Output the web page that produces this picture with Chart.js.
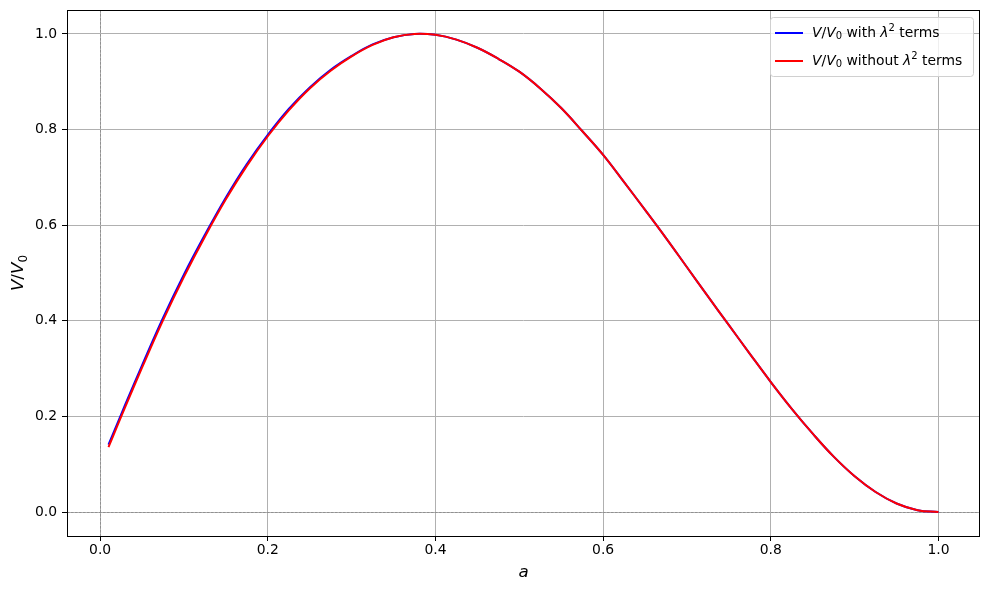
<!DOCTYPE html>
<html>
<head>
<meta charset="utf-8">
<script src="https://cdn.jsdelivr.net/npm/chart.js@4.4.1/dist/chart.umd.min.js"></script>
<style>
  html, body { margin: 0; padding: 0; background: #ffffff; }
  #wrap { position: relative; width: 989px; height: 590px; }
</style>
</head>
<body>
<div id="wrap"><canvas id="c" width="989" height="590"></canvas></div>
<script>
// ---- data ----
const aValues = [0.01, 0.02, 0.03, 0.05, 0.075, 0.1, 0.125, 0.15, 0.175, 0.2,
  0.225, 0.25, 0.275, 0.3, 0.325, 0.35, 0.375, 0.4, 0.425, 0.45, 0.475, 0.5,
  0.525, 0.55, 0.575, 0.6, 0.625, 0.65, 0.675, 0.7, 0.725, 0.75, 0.775, 0.8,
  0.825, 0.85, 0.875, 0.9, 0.925, 0.95, 0.975, 1.0];
const withoutLambda = [0.136, 0.178, 0.220, 0.302, 0.401, 0.492, 0.576, 0.654, 0.724, 0.786,
  0.840, 0.886, 0.923, 0.953, 0.977, 0.993, 1.000, 0.998, 0.988, 0.971, 0.948, 0.921,
  0.886, 0.845, 0.797, 0.747, 0.690, 0.632, 0.573, 0.512, 0.451, 0.391, 0.331, 0.272,
  0.216, 0.164, 0.116, 0.075, 0.042, 0.018, 0.004, 0.000];
const withLambda = [0.141, 0.183, 0.225, 0.307, 0.406, 0.497, 0.580, 0.658, 0.728, 0.789,
  0.843, 0.888, 0.925, 0.954, 0.978, 0.993, 1.000, 0.998, 0.988, 0.971, 0.948, 0.921,
  0.886, 0.845, 0.797, 0.747, 0.690, 0.632, 0.573, 0.512, 0.451, 0.391, 0.331, 0.272,
  0.216, 0.164, 0.116, 0.075, 0.042, 0.018, 0.004, 0.000];
const xTicks = [0.0, 0.2, 0.4, 0.6, 0.8, 1.0];
const yTicks = [0.0, 0.2, 0.4, 0.6, 0.8, 1.0];
const seriesLabels = ['with', 'without'];
const seriesColors = ['#0000ff', '#ff0000'];

const FONT = 'DejaVu Sans';

function pts(ys) { return aValues.map((a, i) => ({ x: a, y: ys[i] })); }

// draw text made of styled pieces; returns width
function drawRich(ctx, x, y, pieces, size, measureOnly) {
  let cx = x;
  for (const p of pieces) {
    const s = (p.sub || p.sup) ? size * 0.72 : size;
    ctx.font = (p.italic ? 'italic ' : '') + s + 'px "' + FONT + '"';
    let dy = 0;
    if (p.sub) dy = size * 0.22;
    if (p.sup) dy = -size * 0.36;
    if (!measureOnly) ctx.fillText(p.t, cx, y + dy);
    cx += ctx.measureText(p.t).width;
  }
  return cx - x;
}
function vv0() {
  return [{ t: 'V', italic: true }, { t: '/' }, { t: 'V', italic: true }, { t: '0', sub: true }];
}

const decorPlugin = {
  id: 'decor',
  beforeDatasetsDraw(chart) {
    const { ctx, chartArea, scales } = chart;
    ctx.save();
    ctx.strokeStyle = '#7a7a7a';
    ctx.lineWidth = 0.6;
    ctx.setLineDash([2.5, 1.5]);
    const x0 = Math.round(scales.x.getPixelForValue(0)) + 0.5;
    const y0 = Math.round(scales.y.getPixelForValue(0)) + 0.5;
    ctx.beginPath();
    ctx.moveTo(x0, chartArea.top); ctx.lineTo(x0, chartArea.bottom);
    ctx.moveTo(chartArea.left, y0); ctx.lineTo(chartArea.right, y0);
    ctx.stroke();
    ctx.restore();
  },
  afterDraw(chart) {
    const { ctx, chartArea } = chart;
    ctx.save();
    // frame
    ctx.strokeStyle = '#000';
    ctx.lineWidth = 1;
    ctx.strokeRect(Math.round(chartArea.left) + 0.5, Math.round(chartArea.top) + 0.5,
      Math.round(chartArea.right - chartArea.left) - 1, Math.round(chartArea.bottom - chartArea.top));

    // legend
    const lx = 770.5, ly = 17.5, lw = 203, lh = 59, r = 3;
    ctx.fillStyle = 'rgba(255,255,255,0.8)';
    ctx.strokeStyle = '#d0d0d0';
    ctx.lineWidth = 1;
    ctx.beginPath();
    ctx.moveTo(lx + r, ly);
    ctx.lineTo(lx + lw - r, ly); ctx.quadraticCurveTo(lx + lw, ly, lx + lw, ly + r);
    ctx.lineTo(lx + lw, ly + lh - r); ctx.quadraticCurveTo(lx + lw, ly + lh, lx + lw - r, ly + lh);
    ctx.lineTo(lx + r, ly + lh); ctx.quadraticCurveTo(lx, ly + lh, lx, ly + lh - r);
    ctx.lineTo(lx, ly + r); ctx.quadraticCurveTo(lx, ly, lx + r, ly);
    ctx.closePath();
    ctx.fill(); ctx.stroke();

    const rowsY = [33, 61];
    ctx.textBaseline = 'middle';
    ctx.textAlign = 'left';
    for (let i = 0; i < 2; i++) {
      ctx.strokeStyle = seriesColors[i];
      ctx.lineWidth = 2;
      ctx.setLineDash([]);
      ctx.beginPath();
      ctx.moveTo(775, rowsY[i]); ctx.lineTo(803, rowsY[i]);
      ctx.stroke();
      ctx.fillStyle = '#000';
      const pieces = vv0().concat([{ t: ' ' + seriesLabels[i] + ' ' }, { t: 'λ', italic: true }, { t: '2', sup: true }, { t: ' terms' }]);
      drawRich(ctx, 812, rowsY[i], pieces, 13.9);
    }

    // x axis label
    ctx.fillStyle = '#000';
    ctx.textBaseline = 'alphabetic';
    ctx.textAlign = 'left';
    ctx.font = 'italic 16.7px "' + FONT + '"';
    const xc = (chartArea.left + chartArea.right) / 2;
    const wa = ctx.measureText('a').width;
    ctx.fillText('a', xc - wa / 2, 577);

    // y axis label (rotated)
    const yc = (chartArea.top + chartArea.bottom) / 2;
    ctx.translate(23, yc);
    ctx.rotate(-Math.PI / 2);
    const w = drawRich(ctx, 0, 0, vv0(), 16.7, true);
    drawRich(ctx, -w / 2, 0, vv0(), 16.7);
    ctx.restore();
  }
};

const tickFont = { family: FONT, size: 13.9 };

function zeroPad(s) { s.paddingTop = 0; s.paddingBottom = 0; s.paddingLeft = 0; s.paddingRight = 0; }

new Chart(document.getElementById('c'), {
  type: 'line',
  data: {
    datasets: [
      { label: 'V/V0 with λ2 terms', data: pts(withLambda), borderColor: seriesColors[0],
        borderWidth: 2, pointRadius: 0, fill: false, tension: 0.4, order: 1 },
      { label: 'V/V0 without λ2 terms', data: pts(withoutLambda), borderColor: seriesColors[1],
        borderWidth: 2, pointRadius: 0, fill: false, tension: 0.4, order: 0 }
    ]
  },
  options: {
    responsive: false,
    animation: false,
    devicePixelRatio: 1,
    layout: { padding: { top: 10, right: 9, left: 0, bottom: 0 } },
    plugins: { legend: { display: false }, tooltip: { enabled: false } },
    scales: {
      x: {
        type: 'linear', min: -0.0395, max: 1.0495,
        afterBuildTicks: s => { s.ticks = xTicks.map(v => ({ value: v })); },
        afterFit: s => { s.height = 54; zeroPad(s); },
        ticks: { callback: v => Number(v).toFixed(1), font: tickFont, color: '#000',
          padding: 1, maxRotation: 0, autoSkip: false },
        grid: { color: '#b0b0b0', lineWidth: 1, tickColor: '#000', tickLength: 5 },
        border: { display: false }
      },
      y: {
        type: 'linear', min: -0.05, max: 1.05,
        afterBuildTicks: s => { s.ticks = yTicks.map(v => ({ value: v })); },
        afterFit: s => { s.width = 67; zeroPad(s); },
        ticks: { callback: v => Number(v).toFixed(1), font: tickFont, color: '#000',
          padding: 5, autoSkip: false },
        grid: { color: '#b0b0b0', lineWidth: 1, tickColor: '#000', tickLength: 5 },
        border: { display: false }
      }
    }
  },
  plugins: [decorPlugin]
});
</script>
</body>
</html>
